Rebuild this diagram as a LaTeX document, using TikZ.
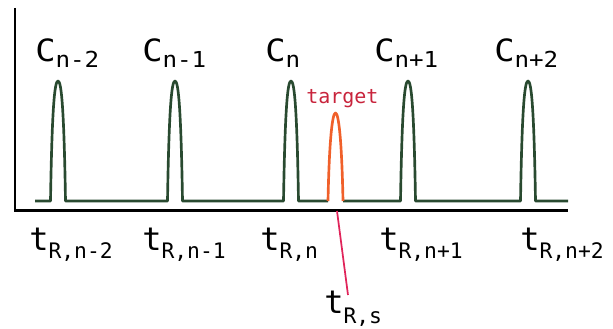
\documentclass[tikz,border=0pt]{standalone}
\usepackage{fontspec}
\newfontfamily\labfont{DejaVu Sans Mono}
\newfontfamily\labwide[FakeStretch=1.1]{DejaVu Sans Mono}
\usetikzlibrary{positioning}
\definecolor{PeakGreen}{HTML}{294A30}
\definecolor{TargetOrange}{HTML}{F0602A}
\definecolor{TargetRed}{HTML}{C8243C}
\definecolor{MarkRed}{HTML}{E0245A}
\newcommand{\csub}[2]{{\fontsize{23}{25}\selectfont #1}\raisebox{-4pt}{\fontsize{16.5}{18}\selectfont #2}}
\newcommand{\tsub}[2]{{\fontsize{24}{26}\selectfont t}\raisebox{-#1}{\fontsize{16}{18}\selectfont R,#2}}

\begin{document}
\begin{tikzpicture}[x=0.75pt,y=-0.75pt,
    axis/.style={line width=2.2pt,draw=black},
    signal/.style={line width=2pt,draw=PeakGreen,line join=round},
    lbl/.style={inner sep=0pt,anchor=base west,font=\labfont}
]
\useasboundingbox (0,0) rectangle (613,328);
% axes
\draw[axis] (15,8) -- (15,210.5) -- (568,210.5);
% peaks of the neighbours
\coordinate (tl) at (328,201);
\coordinate (tr) at (343,201);
\draw[signal] (35,201)
  foreach \c in {58,175,291}{
    -- (\c-7.5,201) .. controls (\c-6,110) and (\c-3.5,81) .. (\c,81)
       .. controls (\c+3.5,81) and (\c+6,110) .. (\c+7.5,201)} -- (tl);
\draw[signal] (tr)
  foreach \c in {408,528}{
    -- (\c-7.5,201) .. controls (\c-6,110) and (\c-3.5,81) .. (\c,81)
       .. controls (\c+3.5,81) and (\c+6,110) .. (\c+7.5,201)} -- (568,201);
% target peak
\draw[signal,draw=TargetOrange] (tl) .. controls (329.3,138) and (332.5,113) .. (335.5,113)
   .. controls (338.5,113) and (341.7,138) .. (tr);
\node[lbl,font=\labfont\fontsize{15}{17}\selectfont,text=TargetRed] (target) at (306,103) {target};
% compound labels
\node[lbl,font=\labwide] (c1) at (35,62) {\csub{C}{n-2}};
\node[lbl,font=\labwide] (c2) at (142,62) {\csub{C}{n-1}};
\node[lbl,font=\labwide] (c3) at (265,62) {\csub{C}{n}};
\node[lbl,font=\labwide] (c4) at (374,62) {\csub{C}{n+1}};
\node[lbl,font=\labwide] (c5) at (494,62) {\csub{C}{n+2}};
% retention times
\node[lbl] (t1) at (29,250) {\tsub{6pt}{n-2}};
\node[lbl] (t2) at (142,250) {\tsub{6pt}{n-1}};
\node[lbl] (t3) at (260,250) {\tsub{6pt}{n}};
\node[lbl] (t4) at (379,250) {\tsub{6pt}{n+1}};
\node[lbl] (t5) at (520,250) {\tsub{6pt}{n+2}};
\node[lbl] (ts) at (324,313) {\tsub{7.5pt}{s}};
\coordinate (tgt) at (337,211);
\coordinate (tend) at (348,295);
\draw[MarkRed,line width=1.3pt] (tgt) -- (tend);
\end{tikzpicture}
\end{document}
